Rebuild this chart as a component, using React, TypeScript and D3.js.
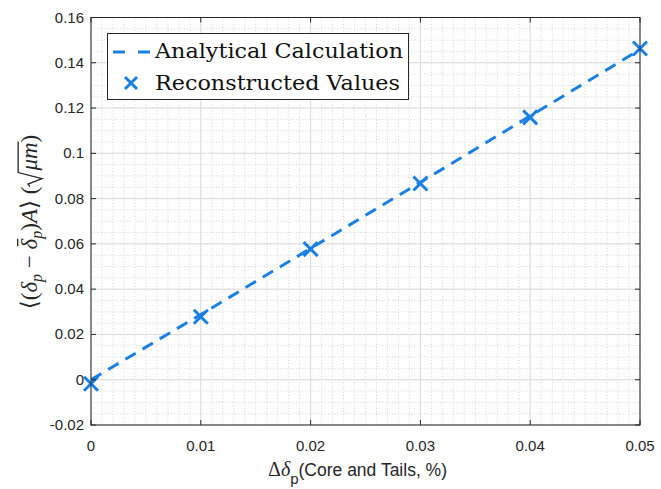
import React, { useLayoutEffect, useRef, useState } from "react";
import * as d3 from "d3";

const xValues = [0, 0.01, 0.02, 0.03, 0.04, 0.05];
const analytical = [0, 0.0288, 0.0580, 0.0872, 0.1165, 0.1458];
const reconstructed = [-0.0018, 0.0278, 0.0577, 0.0867, 0.1159, 0.1463];
const xTicks = [0, 0.01, 0.02, 0.03, 0.04, 0.05];
const xTickLabels = ["0", "0.01", "0.02", "0.03", "0.04", "0.05"];
const yTicks = [-0.02, 0, 0.02, 0.04, 0.06, 0.08, 0.1, 0.12, 0.14, 0.16];
const yTickLabels = ["-0.02", "0", "0.02", "0.04", "0.06", "0.08", "0.1", "0.12", "0.14", "0.16"];
const legendLabels = ["Analytical Calculation", "Reconstructed Values"];

const W = 661, H = 489;
const M = { left: 91, right: 640, top: 17.5, bottom: 425 };
const BLUE = "#1a80e4";
const AX = "#262626";
const LFS = 23;

export default function App() {
  const x = d3.scaleLinear().domain([0, 0.05]).range([M.left, M.right]);
  const y = d3.scaleLinear().domain([-0.02, 0.16]).range([M.bottom, M.top]);
  const xMinor = d3.range(0, 0.0500001, 0.001);
  const yMinor = d3.range(-0.02, 0.1600001, 0.005);
  const line = d3.line<number>().x((_, i) => x(xValues[i])).y((d) => y(d));
  const tl = 5;
  const labelRef = useRef<SVGTextElement>(null);
  const [deco, setDeco] = useState<{ macron?: number[]; rad?: string }>({});

  useLayoutEffect(() => {
    const t = labelRef.current;
    if (!t) return;
    try {
      const str = t.textContent || "";
      const res: { macron?: number[]; rad?: string } = {};
      const dIdx = str.indexOf("δ", str.indexOf("δ") + 1);
      if (dIdx >= 0) {
        const p = t.getStartPositionOfChar(dIdx);
        const e = t.getExtentOfChar(dIdx);
        const yb = p.y - LFS * 0.84;
        res.macron = [e.x + e.width * 0.3, e.x + e.width * 1.0, yb];
      }
      const muIdx = str.indexOf("μ");
      const mIdx = str.indexOf("m", muIdx);
      if (muIdx >= 0 && mIdx >= 0) {
        const pm = t.getStartPositionOfChar(muIdx);
        const em = t.getExtentOfChar(mIdx);
        const b = pm.y;
        const x0 = pm.x - 1;
        const top = b - LFS * 0.82;
        res.rad = `M${x0 - 15},${b - 7} L${x0 - 12.5},${b - 9} L${x0 - 7},${b + 5} L${x0 - 1},${top} L${em.x + em.width + 1},${top}`;
      }
      setDeco(res);
    } catch (e) {
      /* ignore */
    }
  }, []);

  const cross = (cx: number, cy: number, s: number, key: string) => (
    <g key={key} stroke={BLUE} strokeWidth={3} strokeLinecap="butt">
      <line x1={cx - s} y1={cy - s} x2={cx + s} y2={cy + s} />
      <line x1={cx - s} y1={cy + s} x2={cx + s} y2={cy - s} />
    </g>
  );
  const serif = "'DejaVu Serif', 'Liberation Serif', serif";
  const serif2 = "'Liberation Serif', 'DejaVu Serif', serif";
  const sans = "'Liberation Sans', Arial, sans-serif";
  return (
    <svg width={W} height={H} style={{ position: "absolute", left: 0, top: 0, background: "#fff" }}>
      <rect x={0} y={0} width={W} height={H} fill="#fff" />
      <rect x={M.left} y={M.top} width={M.right - M.left} height={M.bottom - M.top} fill="#fff" />
      {/* minor grid */}
      <g stroke="#c8c8c8" strokeWidth={0.8} strokeDasharray="1 2.2">
        {xMinor.map((v, i) => (
          <line key={"xm" + i} x1={x(v)} x2={x(v)} y1={M.top} y2={M.bottom} />
        ))}
        {yMinor.map((v, i) => (
          <line key={"ym" + i} x1={M.left} x2={M.right} y1={y(v)} y2={y(v)} />
        ))}
      </g>
      {/* major grid */}
      <g stroke="#dcdcdc" strokeWidth={1}>
        {xTicks.map((v, i) => (
          <line key={"xg" + i} x1={x(v)} x2={x(v)} y1={M.top} y2={M.bottom} />
        ))}
        {yTicks.map((v, i) => (
          <line key={"yg" + i} x1={M.left} x2={M.right} y1={y(v)} y2={y(v)} />
        ))}
      </g>
      {/* data */}
      <path d={line(analytical) || ""} fill="none" stroke={BLUE} strokeWidth={3} strokeDasharray="12 8" />
      {reconstructed.map((v, i) => cross(x(xValues[i]), y(v), 7, "c" + i))}
      {/* axes box and ticks */}
      <rect x={M.left} y={M.top} width={M.right - M.left} height={M.bottom - M.top} fill="none" stroke={AX} strokeWidth={1} />
      <g stroke={AX} strokeWidth={1}>
        {xTicks.map((v, i) => (
          <g key={"xt" + i}>
            <line x1={x(v)} x2={x(v)} y1={M.bottom} y2={M.bottom - tl} />
            <line x1={x(v)} x2={x(v)} y1={M.top} y2={M.top + tl} />
          </g>
        ))}
        {yTicks.map((v, i) => (
          <g key={"yt" + i}>
            <line x1={M.left} x2={M.left + tl} y1={y(v)} y2={y(v)} />
            <line x1={M.right} x2={M.right - tl} y1={y(v)} y2={y(v)} />
          </g>
        ))}
      </g>
      <g fontFamily={sans} fontSize={15} fill={AX}>
        {xTicks.map((v, i) => (
          <text key={"xl" + i} x={x(v)} y={451} textAnchor="middle">{xTickLabels[i]}</text>
        ))}
        {yTicks.map((v, i) => (
          <text key={"yl" + i} x={84} y={y(v) + 5} textAnchor="end">{yTickLabels[i]}</text>
        ))}
      </g>
      {/* x label */}
      <text x={268} y={476} fill={AX}>
        <tspan fontFamily={serif2} fontSize={20}>Δ</tspan>
        <tspan fontFamily={serif2} fontStyle="italic" fontSize={20}>δ</tspan>
        <tspan fontFamily={sans} fontSize={15} dy={8}>p</tspan>
        <tspan fontFamily={sans} fontSize={17.5} dy={-8}>(Core and Tails, %)</tspan>
      </text>
      {/* y label */}
      <g transform="translate(37,222) rotate(-90)">
        <text ref={labelRef} x={0} y={0} textAnchor="middle" fill={AX} fontFamily={serif2} fontSize={LFS}>
          <tspan>⟨(</tspan>
          <tspan fontStyle="italic">δ</tspan>
          <tspan fontStyle="italic" fontSize={16} dy={5}>p</tspan>
          <tspan dy={-5}> − </tspan>
          <tspan fontStyle="italic">δ</tspan>
          <tspan fontStyle="italic" fontSize={16} dy={5}>p</tspan>
          <tspan dy={-5}>)</tspan>
          <tspan fontStyle="italic">A</tspan>
          <tspan>⟩ (</tspan>
          <tspan fontStyle="italic" dx={16}>μm</tspan>
          <tspan>)</tspan>
        </text>
        {deco.macron && (
          <line x1={deco.macron[0]} x2={deco.macron[1]} y1={deco.macron[2]} y2={deco.macron[2]} stroke={AX} strokeWidth={1.3} />
        )}
        {deco.rad && <path d={deco.rad} fill="none" stroke={AX} strokeWidth={1.3} strokeLinejoin="miter" />}
      </g>
      {/* legend */}
      <rect x={107.5} y={33.5} width={301} height={66} fill="#fff" stroke={AX} strokeWidth={1} />
      <line x1={113} x2={150} y1={52} y2={52} stroke={BLUE} strokeWidth={3} strokeDasharray="12 13" />
      {cross(131, 83, 6, "lg")}
      <g fontFamily={serif} fontSize={20} fill="#111">
        <text x={155} y={58} textLength={248} lengthAdjust="spacingAndGlyphs">{legendLabels[0]}</text>
        <text x={155} y={90} textLength={245} lengthAdjust="spacingAndGlyphs">{legendLabels[1]}</text>
      </g>
    </svg>
  );
}
